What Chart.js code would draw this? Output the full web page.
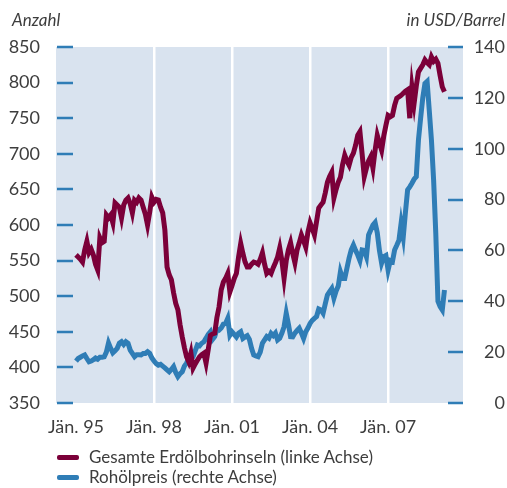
<!DOCTYPE html>
<html>
<head>
<meta charset="utf-8">
<script src="https://cdn.jsdelivr.net/npm/chart.js@4.4.1/dist/chart.umd.min.js"></script>
<style>
	html, body { margin: 0; padding: 0; background: #fff; }
	#wrap { position: relative; width: 507px; height: 488px; font-family: Lato, sans-serif; color: #3d3d3d; }
	#wrap canvas { position: absolute; left: 0; top: 0; }
	.axisTitle { position: absolute; top: 10px; font-size: 17px; font-style: italic; line-height: 20px; }
	.legendRow { position: absolute; left: 57px; height: 20px; line-height: 20px; font-size: 17px; white-space: nowrap; }
	.legendRow span.swatch { position: absolute; left: 0; top: 8px; width: 22px; height: 5px; border-radius: 2px; }
	.legendRow span.label { position: absolute; left: 32px; top: 0; }
</style>
</head>
<body>
<div id="wrap">
	<canvas id="chart" width="507" height="488"></canvas>
	<div class="axisTitle" style="left:12px;">Anzahl</div>
	<div class="axisTitle" style="right:2px;">in USD/Barrel</div>
	<div class="legendRow" style="top:447px;"><span class="swatch" style="background:#7b0039;"></span><span class="label">Gesamte Erdölbohrinseln (linke Achse)</span></div>
	<div class="legendRow" style="top:467px;"><span class="swatch" style="background:#2f7db6;"></span><span class="label">Rohölpreis (rechte Achse)</span></div>
</div>
<script>
// monthly values, Jän. 95 .. März 09
const rigs = [
	558, 555, 552, 548, 565, 577, 561, 566, 558, 545, 537, 582,	// 1995
	575, 577, 614, 610, 614, 603, 631, 628, 625, 610, 628, 635,	// 1996
	638, 630, 617, 635, 632, 638, 635, 625, 615, 600, 618, 639,	// 1997
	632, 636, 635, 625, 617, 593, 541, 530, 523, 505, 490, 481,	// 1998
	460, 443, 428, 415, 408, 420, 399, 405, 410, 415, 418, 420,	// 1999
	406, 425, 445, 447, 448, 470, 485, 509, 520, 525, 532, 506,	// 2000
	515, 525, 532, 555, 574, 560, 548, 541, 541, 545, 548, 547,	// 2001
	545, 552, 561, 545, 532, 535, 532, 540, 547, 555, 568, 550,	// 2002
	525, 550, 565, 575, 560, 547, 565, 575, 586, 578, 569, 590,	// 2003
	603, 595, 586, 605, 624, 628, 632, 645, 660, 668, 674, 638,	// 2004
	650, 660, 667, 685, 698, 690, 684, 695, 701, 712, 726, 731,	// 2005
	700, 668, 680, 690, 696, 680, 705, 726, 715, 705, 725, 740,	// 2006
	754, 752, 754, 768, 778, 780, 782, 785, 788, 790, 750, 794,	// 2007
	771, 795, 815, 820, 825, 832, 828, 825, 836, 830, 833, 827,	// 2008
	810, 794, 787	// 2009
];
const oil = [
	16.5, 17.5, 18, 18.5, 18.9, 17.5, 16.2, 16.5, 17, 17.7, 17.2, 18,	// 1995
	18, 18.2, 20, 23.6, 21.5, 19.7, 20.5, 21.5, 23.5, 24.1, 23, 24.1,	// 1996
	23.5, 20.8, 19.5, 18.2, 19, 19, 18.9, 19.5, 19.5, 20.2, 19.5, 17.7,	// 1997
	16.5, 15.5, 14.9, 15.2, 14.5, 13.8, 13, 12.3, 13.2, 14.3, 12, 10.4,	// 1998
	11.5, 12.3, 14.5, 15.7, 17.5, 17.5, 18.2, 20.5, 22.8, 22.5, 23.5, 24.1,	// 1999
	25.5, 27, 28, 25, 26.1, 29, 28.7, 29.5, 31, 31.3, 33.3, 26.7,	// 2000
	28, 27, 26, 27.4, 28, 25.4, 26, 26.5, 25, 21.5, 18.9, 18.5,	// 2001
	18.2, 20, 23.5, 24.8, 26.1, 25.5, 27.4, 26.5, 27.5, 24.8, 25.5, 27.5,	// 2002
	30, 35.3, 31, 26.1, 26, 27.5, 28.5, 29.4, 27.5, 25.4, 28, 29.5,	// 2003
	31.3, 32.5, 33.3, 34, 37, 36.6, 35.3, 39, 42.5, 43.8, 45, 41.2,	// 2004
	44, 46, 51.6, 49, 49, 53, 57, 60.2, 62.1, 60, 58.2, 56,	// 2005
	60.2, 60, 57.5, 66.1, 68, 70, 71, 67, 60, 55, 57.5, 58,	// 2006
	52.3, 56, 55.6, 60.2, 62, 64, 70.7, 65.4, 75, 83.8, 85, 86.4,	// 2007
	88, 89, 103.4, 112, 120, 125.7, 126.5, 115, 103.4, 87.7, 66.7, 40,	// 2008
	37.9, 36.6, 44.4	// 2009
];
const startYear = 1995;
const yearTicks = [1995, 1998, 2001, 2004, 2007];
const tickLabels = ['Jän. 95', 'Jän. 98', 'Jän. 01', 'Jän. 04', 'Jän. 07'];

const maroon = '#7b0039';
const blue = '#2f7db6';
const textColor = '#3d3d3d';

const toPoints = arr => arr.map((v, i) => ({ x: startYear + i / 12, y: v }));

// plot background + short blue tick marks inside the plot
const plotDecor = {
	id: 'plotDecor',
	beforeDraw(chart) {
		const { ctx, chartArea: a } = chart;
		ctx.save();
		ctx.fillStyle = '#d9e3ef';
		ctx.fillRect(a.left, a.top, a.right - a.left, a.bottom - a.top);
		ctx.restore();
	},
	beforeDatasetsDraw(chart) {
		const { ctx, chartArea: a, scales } = chart;
		ctx.save();
		ctx.strokeStyle = blue;
		ctx.lineWidth = 2.5;
		ctx.beginPath();
		scales.y.ticks.forEach(t => {
			const y = Math.round(scales.y.getPixelForValue(t.value));
			ctx.moveTo(a.left + 1, y);
			ctx.lineTo(a.left + 17, y);
		});
		scales.y1.ticks.forEach(t => {
			const y = Math.round(scales.y1.getPixelForValue(t.value));
			ctx.moveTo(a.right - 15, y);
			ctx.lineTo(a.right, y);
		});
		ctx.stroke();
		ctx.restore();
	}
};

new Chart(document.getElementById('chart'), {
	type: 'line',
	data: {
		datasets: [
			{
				label: 'Gesamte Erdölbohrinseln (linke Achse)',
				data: toPoints(rigs),
				yAxisID: 'y',
				borderColor: maroon,
				borderWidth: 5,
				pointRadius: 0,
				tension: 0,
			},
			{
				label: 'Rohölpreis (rechte Achse)',
				data: toPoints(oil),
				yAxisID: 'y1',
				borderColor: blue,
				borderWidth: 5,
				pointRadius: 0,
				tension: 0,
			},
		]
	},
	options: {
		responsive: false,
		animation: false,
		layout: { padding: { top: 47, right: 2, left: 0, bottom: 0 } },
		plugins: {
			legend: { display: false },
			tooltip: { enabled: false },
		},
		scales: {
			x: {
				type: 'linear',
				min: 1994.23,
				max: 2009.88,
				afterBuildTicks: s => { s.ticks = yearTicks.map(v => ({ value: v })); },
				afterFit: s => { s.height = 85; },
				ticks: {
					callback: v => tickLabels[yearTicks.indexOf(v)],
					color: textColor,
					font: { family: 'Lato', size: 18 },
					padding: 13,
					maxRotation: 0,
					autoSkip: false,
				},
				grid: {
					color: c => (c.tick && c.tick.value === 1995) ? 'rgba(0,0,0,0)' : '#ffffff',
					lineWidth: 2.5,
					drawTicks: false,
				},
				border: { display: false },
			},
			y: {
				position: 'left',
				min: 350,
				max: 850,
				afterFit: s => { s.width = 56; },
				ticks: {
					stepSize: 50,
					color: textColor,
					font: { family: 'Lato', size: 18 },
					padding: 16,
				},
				grid: { display: false, drawTicks: false },
				border: { display: false },
			},
			y1: {
				position: 'right',
				min: 0,
				max: 140,
				afterFit: s => { s.width = 42; },
				ticks: {
					stepSize: 20,
					color: textColor,
					font: { family: 'Lato', size: 18 },
					padding: 14,
					crossAlign: 'far',
				},
				grid: { display: false, drawTicks: false },
				border: { display: false },
			},
		}
	},
	plugins: [plotDecor]
});
</script>
</body>
</html>
